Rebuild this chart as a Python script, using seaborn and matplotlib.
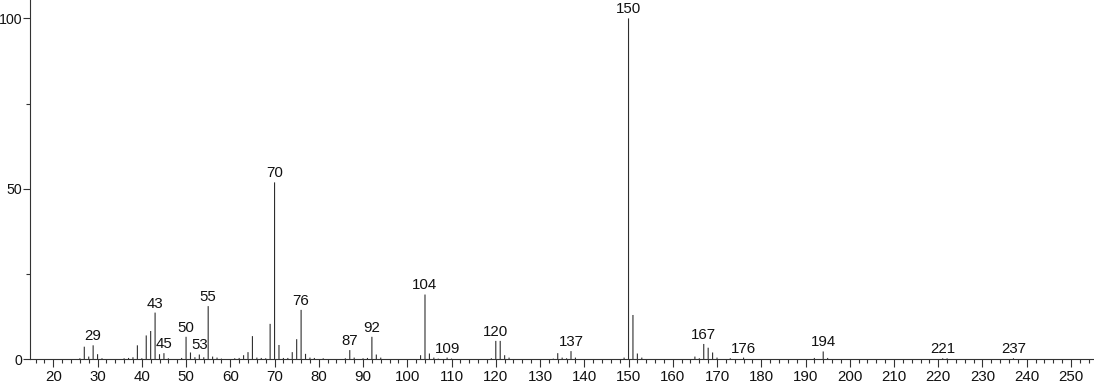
import matplotlib
matplotlib.use('Agg')
import matplotlib.pyplot as plt
import seaborn as sns
import pandas as pd
from matplotlib.ticker import MultipleLocator

# ---- data (m/z and relative intensity, %) ----
mz = [26, 27, 28, 29, 30, 31, 36, 37, 38, 39, 40, 41, 42, 43, 44, 45, 46,
      49, 50, 51, 52, 53, 54, 55, 56, 57, 58, 61, 62, 63, 64, 65, 66, 67, 68,
      69, 70, 71, 72, 73, 74, 75, 76, 77, 78, 79, 81, 86, 87, 88, 90, 91, 92,
      93, 94, 103, 104, 105, 106, 107, 109, 110, 119, 120, 121, 122, 123,
      133, 134, 135, 136, 137, 138, 149, 150, 151, 152, 153, 165, 166, 167,
      168, 169, 170, 173, 176, 192, 194, 195, 221, 222, 237]
intensity = [0.3, 3.7, 0.8, 4.1, 1.5, 0.3, 0.3, 0.4, 0.6, 4.1, 0.3, 7.0, 8.3,
             13.7, 1.5, 1.8, 0.3, 0.4, 6.6, 2.0, 0.6, 1.4, 0.6, 15.6, 0.8,
             0.5, 0.2, 0.3, 0.4, 1.2, 2.1, 6.8, 0.5, 0.4, 0.3, 10.4, 51.9,
             4.2, 0.4, 0.4, 2.1, 5.9, 14.5, 1.6, 0.5, 0.4, 0.3, 0.3, 2.7, 0.5,
             0.3, 0.4, 6.6, 1.4, 0.5, 1.2, 19.0, 1.7, 0.5, 0.2, 0.5, 0.2, 0.3,
             5.4, 5.4, 1.2, 0.5, 0.2, 1.8, 0.5, 0.3, 2.4, 0.5, 0.5, 100.0,
             13.0, 1.7, 0.5, 0.8, 0.3, 4.5, 3.4, 2.0, 0.5, 0.3, 0.5, 0.4, 2.3,
             0.4, 0.3, 0.3, 0.3]
labeled_mz = [29, 43, 45, 50, 53, 55, 70, 76, 87, 92, 104, 109, 120, 137,
              150, 167, 176, 194, 221, 237]

# ---- style ----
sns.set_style('ticks')
plt.rcParams['font.family'] = ['Liberation Sans', 'DejaVu Sans']

fig = plt.figure(figsize=(10.94, 3.84), dpi=100)
ax = fig.add_axes([30 / 1094, 24.7 / 384, 1064 / 1094, 359.3 / 384])

df = pd.DataFrame({'mz': mz, 'intensity': intensity})
sns.barplot(data=df, x='mz', y='intensity', native_scale=True, width=0.25,
            color='#2e2e2e', saturation=1, linewidth=0, errorbar=None, ax=ax)
for p in ax.patches:
    p.set_snap(False)

lookup = dict(zip(mz, intensity))
for m in labeled_mz:
    ax.annotate(str(m), xy=(m, lookup[m]), xytext=(0, 1.5),
                textcoords='offset points', ha='center', va='bottom',
                fontsize=10.8, color='#111111')

ax.set_xlim(14.73, 255.2)
ax.set_ylim(0, 105.4)
ax.xaxis.set_major_locator(MultipleLocator(10))
ax.xaxis.set_minor_locator(MultipleLocator(2))
ax.yaxis.set_major_locator(MultipleLocator(50))
ax.yaxis.set_minor_locator(MultipleLocator(25))
ax.tick_params(axis='x', which='major', length=6, width=0.8, color='#333333',
               labelsize=10.8, labelcolor='#111111', pad=2)
ax.tick_params(axis='y', which='major', length=5, width=0.8, color='#333333',
               labelsize=10.2, labelcolor='#111111', pad=0.5)
ax.tick_params(which='minor', length=3, width=0.8, color='#333333')
ax.set_xlabel('')
ax.set_ylabel('')
sns.despine(ax=ax)
for s in ('left', 'bottom'):
    ax.spines[s].set_color('#333333')
    ax.spines[s].set_linewidth(0.8)

fig.savefig('out.png', dpi=100)
